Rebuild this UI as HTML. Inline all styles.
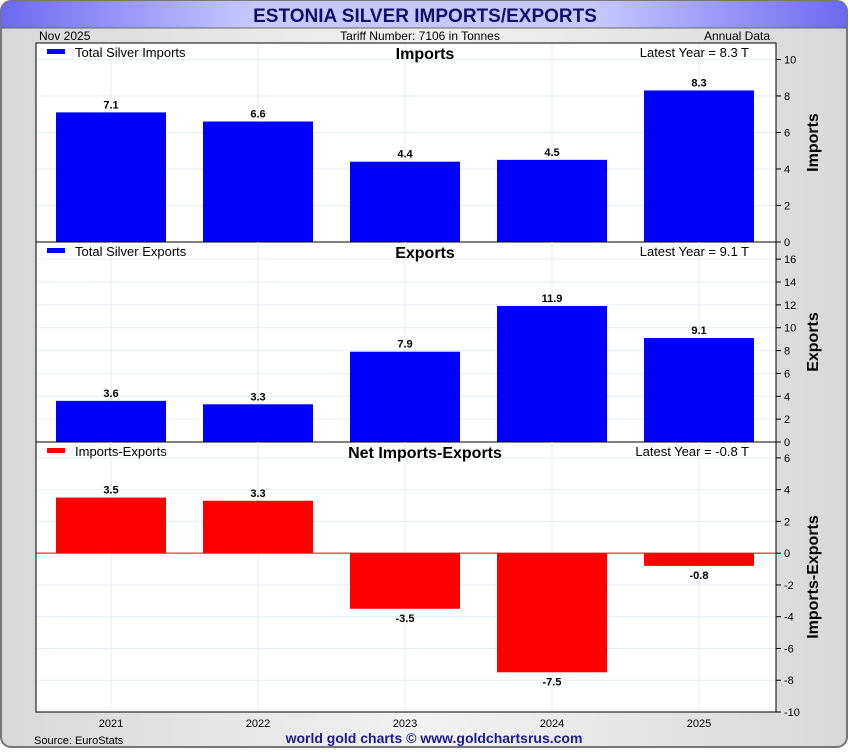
<!DOCTYPE html>
<html><head><meta charset="utf-8"><style>
body{margin:0;width:850px;height:750px;overflow:hidden;background:#fff;font-family:"Liberation Sans",sans-serif}
</style></head><body>
<svg id="c" width="850" height="750" xmlns="http://www.w3.org/2000/svg">
<defs>
<linearGradient id="tg" x1="0" x2="1" y1="0" y2="0">
<stop offset="0" stop-color="#6a6af0"/><stop offset="0.3" stop-color="#c8c8ff"/><stop offset="0.7" stop-color="#c8c8ff"/><stop offset="1" stop-color="#6a6af0"/></linearGradient>
<linearGradient id="bg" x1="0" x2="1"><stop offset="0" stop-color="#d8d8d8"/><stop offset="0.5" stop-color="#f2f2f2"/><stop offset="1" stop-color="#d8d8d8"/></linearGradient>
</defs>
<rect x="1" y="1" width="846" height="746" rx="10" fill="url(#bg)" stroke="#777" stroke-width="2"/>
<path d="M1,28 V11 a10,10 0 0 1 10,-10 H837 a10,10 0 0 1 10,10 V28 Z" fill="url(#tg)"/>
<line x1="1" y1="28" x2="847" y2="28" stroke="#666"/>
<text x="425" y="22" text-anchor="middle" font-size="19" font-weight="bold" fill="#10106a">ESTONIA SILVER IMPORTS/EXPORTS</text>
<text x="39" y="40" font-size="12">Nov  2025</text>
<text x="420" y="40" text-anchor="middle" font-size="12">Tariff Number: 7106 in Tonnes</text>
<text x="770" y="40" text-anchor="end" font-size="12">Annual Data</text>
<rect x="36" y="43" width="740" height="669" fill="#fff"/>
<g id="g"></g>
<text x="34" y="744" font-size="11">Source: EuroStats</text>
<text x="434" y="743" text-anchor="middle" font-size="14" font-weight="bold" fill="#1a1a8a">world gold charts © www.goldchartsrus.com</text>
</svg>
<script>
const years=["2021","2022","2023","2024","2025"];
const imports=[7.1,6.6,4.4,4.5,8.3];
const exportsV=[3.6,3.3,7.9,11.9,9.1];
const net=[3.5,3.3,-3.5,-7.5,-0.8];
const impTicks=[0,2,4,6,8,10];
const expTicks=[0,2,4,6,8,10,12,14,16];
const netTicks=[-10,-8,-6,-4,-2,0,2,4,6];
const NS="http://www.w3.org/2000/svg";
const g=document.getElementById('g');
function el(t,a,txt){const e=document.createElementNS(NS,t);for(const k in a)e.setAttribute(k,a[k]);if(txt!==undefined)e.textContent=txt;g.appendChild(e);return e;}
const L=36,R=776,step=147,bw=110;
function xc(i){return 111+step*i;}
const panels=[
 {key:'imports',top:43,bot:242,min:0,max:10.9,vals:imports,ticks:impTicks,color:'#0000ff',legend:'Total Silver Imports',title:'Imports',latest:'Latest Year = 8.3 T',axis:'Imports'},
 {key:'exports',top:242,bot:442,min:0,max:17.5,vals:exportsV,ticks:expTicks,color:'#0000ff',legend:'Total Silver Exports',title:'Exports',latest:'Latest Year = 9.1 T',axis:'Exports'},
 {key:'net',top:442,bot:712,min:-10,max:7.0,vals:net,ticks:netTicks,color:'#ff0000',legend:'Imports-Exports',title:'Net Imports-Exports',latest:'Latest Year = -0.8 T',axis:'Imports-Exports'}
];
panels.forEach(p=>{
 const y=v=>p.bot-(v-p.min)/(p.max-p.min)*(p.bot-p.top);
 p.ticks.forEach(t=>{
  const e1=el('line',{x1:L,x2:R,y1:y(t),y2:y(t),stroke:'#e4eef8'});
  
  
  const e2=el('line',{x1:R,x2:R+5,y1:y(t),y2:y(t),stroke:'#000'});
  
  
  const e3=el('text',{x:R+8,y:y(t)+4,'font-size':11},String(t));
  
  
 });
 years.forEach((yr,i)=>{
  const e=el('line',{x1:xc(i),x2:xc(i),y1:p.top,y2:p.bot,stroke:'#e4eef8'});
  
  
 });
 p.vals.forEach((v,i)=>{
  const y0=y(0),yv=y(v);
  const r=el('rect',{x:xc(i)-bw/2,y:Math.min(y0,yv),width:bw,height:Math.abs(yv-y0),fill:p.color});
  
  
  const ly=v>=0?yv-4:yv+13;
  const t=el('text',{x:xc(i),y:ly,'text-anchor':'middle','font-size':11,'font-weight':'bold'},v.toFixed(1));
  
  
 });
 if(p.min<0){const z=el('line',{x1:L,x2:R,y1:y(0),y2:y(0),stroke:'#ff0000'});
  
  }
 const lm=el('rect',{x:47,y:p.top+6,width:18,height:5,fill:p.color});
 
 
 const lt=el('text',{x:75,y:p.top+14,'font-size':13},p.legend);
 
 
 const pt=el('text',{x:425,y:p.top+16,'text-anchor':'middle','font-size':16,'font-weight':'bold'},p.title);
 
 
 const la=el('text',{x:749,y:p.top+14,'text-anchor':'end','font-size':13},p.latest);
 
 
 const cy=(p.top+p.bot)/2;
 const at=el('text',{x:818,y:cy,'text-anchor':'middle','font-size':16,'font-weight':'bold',transform:'rotate(-90 818 '+cy+')'},p.axis);
 
 
 const bl=el('line',{x1:L,x2:R,y1:p.bot,y2:p.bot,stroke:'#000'});
 
 
});
const fr=el('rect',{x:L,y:43,width:R-L,height:669,fill:'none',stroke:'#000'});


years.forEach((yr,i)=>{
 const t=el('text',{x:xc(i),y:727,'text-anchor':'middle','font-size':11},yr);
 
 
});
</script>
</body></html>
